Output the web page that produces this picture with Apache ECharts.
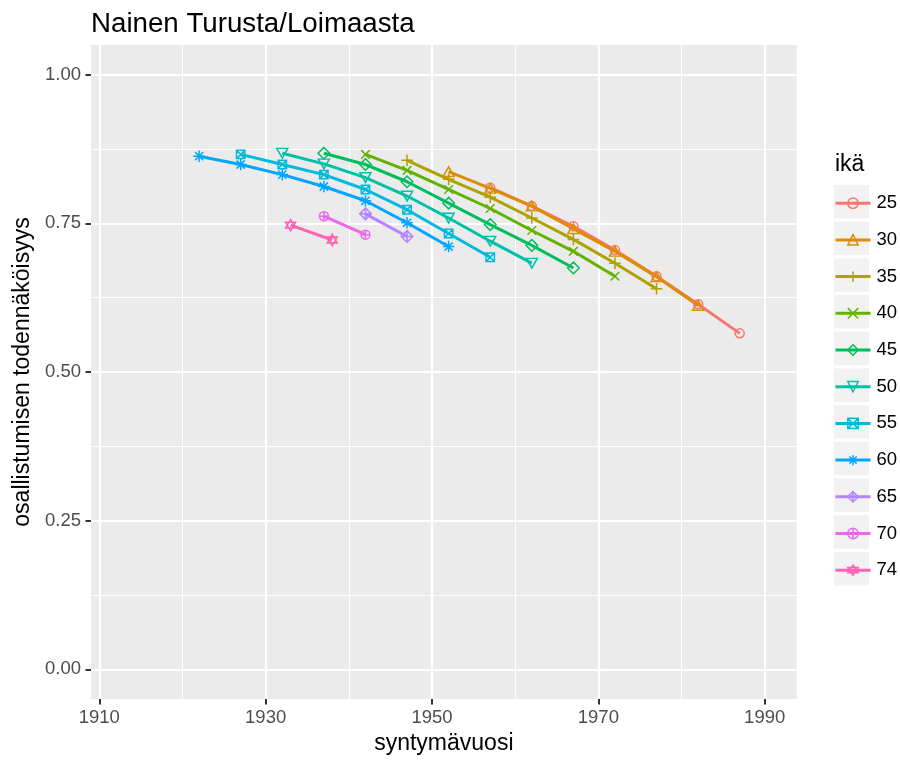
<!DOCTYPE html>
<html><head><meta charset="utf-8">
<script src="https://cdn.jsdelivr.net/npm/echarts@6/dist/echarts.min.js"></script>
<style>html,body{margin:0;padding:0;background:#fff}#c{width:900px;height:760px}</style>
</head><body><div id="c"></div>
<script>
// ---- data ----
const ageLabels = ['25','30','35','40','45','50','55','60','65','70','74'];
const years25 = [1957,1962,1967,1972,1977,1982,1987];
const prob25  = [0.810,0.779,0.745,0.705,0.661,0.614,0.565];
const years30 = [1952,1957,1962,1967,1972,1977,1982];
const prob30  = [0.837,0.809,0.779,0.741,0.703,0.660,0.612];
const years35 = [1947,1952,1957,1962,1967,1972,1977];
const prob35  = [0.856,0.824,0.794,0.759,0.723,0.683,0.640];
const years40 = [1942,1947,1952,1957,1962,1967,1972];
const prob40  = [0.866,0.839,0.807,0.775,0.738,0.703,0.661];
const years45 = [1937,1942,1947,1952,1957,1962,1967];
const prob45  = [0.868,0.849,0.820,0.784,0.748,0.713,0.675];
const years50 = [1932,1937,1942,1947,1952,1957,1962];
const prob50  = [0.868,0.850,0.827,0.796,0.759,0.720,0.683];
const years55 = [1927,1932,1937,1942,1947,1952,1957];
const prob55  = [0.866,0.849,0.832,0.807,0.773,0.733,0.693];
const years60 = [1922,1927,1932,1937,1942,1947,1952];
const prob60  = [0.863,0.849,0.832,0.812,0.788,0.751,0.711];
const years65 = [1942,1947];
const prob65  = [0.766,0.728];
const years70 = [1937,1942];
const prob70  = [0.762,0.731];
const years74 = [1933,1938];
const prob74  = [0.747,0.722];
const xTickLabels = [1910,1930,1950,1970,1990];
const xMinorTicks = [1920,1940,1960,1980];
const yTickLabels = [0,0.25,0.5,0.75,1];
const yMinorTicks = [0.125,0.375,0.625,0.875];

// ---- styles ----
const FONT = 'Liberation Sans';
const colors = ['#F8766D','#DB8E00','#AEA200','#64B200','#00BD5C','#00C1A7','#00BADE','#00A6FF','#B385FF','#EF67EB','#FF63B6'];
const shapes = [
  'path://M10,0A10,10,0,1,1,9.99,0Z',
  'path://M10,0L20,17.32L0,17.32Z',
  'path://M10,0L10,20M0,10L20,10',
  'path://M0,0L20,20M20,0L0,20',
  'path://M10,0L20,10L10,20L0,10Z',
  'path://M0,0L20,0L10,17.32Z',
  'path://M0,0L20,0L20,20L0,20ZM0,0L20,20M20,0L0,20',
  'path://M10,0L10,20M0,10L20,10M2.93,2.93L17.07,17.07M17.07,2.93L2.93,17.07',
  'path://M10,0L20,10L10,20L0,10ZM10,0L10,20M0,10L20,10',
  'path://M10,0A10,10,0,1,1,9.99,0ZM10,0L10,20M0,10L20,10',
  'path://M10,0L18.66,15L1.34,15ZM10,20L1.34,5L18.66,5Z'
];
const sizes = [[9,9],[11,9.6],[11.6,11.6],[8.6,8.6],[11.6,11.6],[11,9.6],[8.4,8.4],[11.6,11.6],[11.6,11.6],[9,9],[10,11.5]];

const seriesData = [
  [years25,prob25],[years30,prob30],[years35,prob35],[years40,prob40],
  [years45,prob45],[years50,prob50],[years55,prob55],[years60,prob60],
  [years65,prob65],[years70,prob70],[years74,prob74]
];
const pairs = seriesData.map(([xs,ys]) => xs.map((x,j)=>[x, ys[j]]));

const lineSeries = ageLabels.map((a,i)=>({
  name:a, type:'line', xAxisIndex:0, yAxisIndex:0, data:pairs[i],
  symbol:shapes[i], symbolSize:sizes[i], showSymbol:false,
  lineStyle:{color:colors[i], width:3},
  itemStyle:{color:'transparent', borderColor:colors[i], borderWidth:1.5},
  emphasis:{disabled:true}, silent:true, z:2
}));
const pointSeries = ageLabels.map((a,i)=>({
  name:a, type:'scatter', xAxisIndex:0, yAxisIndex:0, data:pairs[i],
  symbol:shapes[i], symbolSize:sizes[i],
  itemStyle:{color:'transparent', borderColor:colors[i], borderWidth:1.5, opacity:1},
  emphasis:{disabled:true}, silent:true, z:3
}));

const keyRects = ageLabels.map((a,i)=>({
  type:'rect', left:834, top:185 + i*36.7, shape:{width:35, height:33.4},
  style:{fill:'#F2F2F2'}, silent:true
}));

const chart = echarts.init(document.getElementById('c'), null, {renderer:'canvas'});
chart.setOption({
  animation:false,
  backgroundColor:'#fff',
  textStyle:{fontFamily:FONT},
  title:[
    {text:'Nainen Turusta/Loimaasta', left:91, top:10, padding:0,
     textStyle:{fontSize:27.7, fontWeight:'normal', color:'#000', fontFamily:FONT}},
    {text:'ikä', left:835, top:153, padding:0,
     textStyle:{fontSize:23, fontWeight:'normal', color:'#000', fontFamily:FONT}}
  ],
  grid:{left:91, right:103.3, top:45, bottom:61, show:true, backgroundColor:'#EBEBEB', borderWidth:0},
  xAxis:[
    {type:'value', gridIndex:0, min:1909, max:1993.85,
     axisLine:{show:false, onZero:false},
     axisTick:{show:true, length:5.5, lineStyle:{color:'#333333', width:2}, customValues:xTickLabels},
     axisLabel:{show:true, customValues:xTickLabels, margin:9, color:'#4D4D4D', fontSize:18.5, fontFamily:FONT,
       formatter:v=>String(Math.round(v))},
     splitLine:{show:true, lineStyle:{color:'#FFFFFF', width:2.2}},
     name:'syntymävuosi', nameLocation:'middle', nameGap:33,
     nameTextStyle:{fontSize:23, color:'#000', fontFamily:FONT}},
    {type:'value', gridIndex:0, min:1909, max:1993.85, position:'bottom',
     axisLine:{show:false, onZero:false},
     axisTick:{show:false, customValues:xMinorTicks},
     axisLabel:{show:false, customValues:xMinorTicks},
     splitLine:{show:true, lineStyle:{color:'#FFFFFF', width:1.1}}}
  ],
  yAxis:[
    {type:'value', gridIndex:0, min:-0.05, max:1.05,
     axisLine:{show:false, onZero:false},
     axisTick:{show:true, length:5.5, lineStyle:{color:'#333333', width:2}, customValues:yTickLabels},
     axisLabel:{show:true, customValues:yTickLabels, margin:10, color:'#4D4D4D', fontSize:18.5, fontFamily:FONT,
       formatter:v=>Number(v).toFixed(2)},
     splitLine:{show:true, lineStyle:{color:'#FFFFFF', width:2.2}},
     name:'osallistumisen todennäköisyys', nameLocation:'middle', nameGap:53, nameRotate:90,
     nameTextStyle:{fontSize:23, color:'#000', fontFamily:FONT}},
    {type:'value', gridIndex:0, min:-0.05, max:1.05, position:'left',
     axisLine:{show:false, onZero:false},
     axisTick:{show:false, customValues:yMinorTicks},
     axisLabel:{show:false, customValues:yMinorTicks},
     splitLine:{show:true, lineStyle:{color:'#FFFFFF', width:1.1}}}
  ],
  legend:{
    data:ageLabels, orient:'vertical', left:834, top:193.7, padding:0,
    itemWidth:35, itemHeight:13, itemGap:17.7, selectedMode:false,
    itemStyle:{borderWidth:1.5}, lineStyle:{width:3},
    textStyle:{fontSize:18.5, color:'#000', lineHeight:13, fontFamily:FONT, padding:[0,0,0,1]}
  },
  graphic:keyRects,
  series:lineSeries.concat(pointSeries)
});
</script>
</body></html>
